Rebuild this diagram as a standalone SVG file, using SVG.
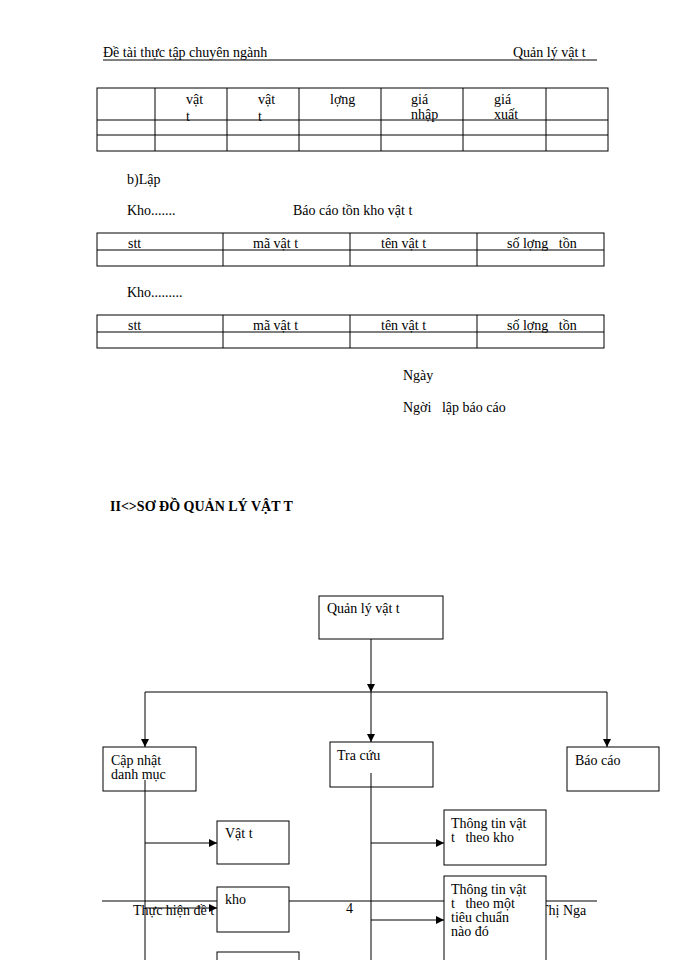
<svg xmlns="http://www.w3.org/2000/svg" width="700" height="960" viewBox="0 0 700 960">
<style>
text{font-family:"Liberation Serif",serif;font-size:14px;fill:#000}
.l{stroke:#000;stroke-width:1;fill:none}
.b{stroke:#000;stroke-width:1;fill:#fff}
.c{stroke:#000;stroke-width:1;fill:none}
</style>
<defs><marker id="a" viewBox="0 0 10 10" refX="10" refY="5" markerWidth="8" markerHeight="8" orient="auto" markerUnits="userSpaceOnUse"><path d="M0,0L10,5L0,10z" fill="#000"/></marker></defs>
<rect width="700" height="960" fill="#fff"/>
<text x="103" y="57">Đề tài thực tập chuyên ngành</text>
<text x="513" y="57">Quản lý vật t</text>
<line class="l" x1="103" y1="60" x2="597" y2="60"/>
<g class="l">
<rect x="97" y="88" width="511" height="63"/>
<line x1="97" y1="120" x2="608" y2="120"/><line x1="97" y1="135" x2="608" y2="135"/>
<line x1="155" y1="88" x2="155" y2="151"/><line x1="227" y1="88" x2="227" y2="151"/><line x1="299" y1="88" x2="299" y2="151"/><line x1="381" y1="88" x2="381" y2="151"/><line x1="463" y1="88" x2="463" y2="151"/><line x1="546" y1="88" x2="546" y2="151"/>
</g>
<text x="186" y="104">vật</text><text x="186" y="121">t</text>
<text x="258" y="104">vật</text><text x="258" y="121">t</text>
<text x="330" y="104">lợng</text>
<text x="411" y="104">giá</text><text x="411" y="119">nhập</text>
<text x="494" y="104">giá</text><text x="494" y="119">xuất</text>
<text x="127" y="184">b)Lập</text>
<text x="127" y="215">Kho.......</text>
<text x="293" y="215">Báo cáo tồn kho vật t</text>
<g class="l">
<rect x="97" y="233" width="507" height="33"/><line x1="97" y1="250" x2="604" y2="250"/>
<line x1="223" y1="233" x2="223" y2="266"/><line x1="350" y1="233" x2="350" y2="266"/><line x1="477" y1="233" x2="477" y2="266"/>
</g>
<text x="128" y="248">stt</text><text x="253" y="248">mã vật t</text><text x="381" y="248">tên vật t</text><text x="507" y="248" xml:space="preserve">số lợng   tồn</text>
<text x="127" y="297">Kho.........</text>
<g class="l">
<rect x="97" y="315" width="507" height="33"/><line x1="97" y1="332" x2="604" y2="332"/>
<line x1="223" y1="315" x2="223" y2="348"/><line x1="350" y1="315" x2="350" y2="348"/><line x1="477" y1="315" x2="477" y2="348"/>
</g>
<text x="128" y="330">stt</text><text x="253" y="330">mã vật t</text><text x="381" y="330">tên vật t</text><text x="507" y="330" xml:space="preserve">số lợng   tồn</text>
<text x="403" y="380">Ngày</text>
<text x="403" y="412" xml:space="preserve">Ngời   lập báo cáo</text>
<text x="110" y="511" font-weight="bold">II&lt;&gt;SƠ ĐỒ QUẢN LÝ VẬT T</text>
<g id="footer">
<line class="l" x1="102" y1="901" x2="597" y2="901"/>
<text x="133" y="915">Thực hiện đề t</text>
<text x="346" y="913">4</text>
<text x="540" y="915">Thị Nga</text>
</g>
<g id="n-root"><rect class="b" x="319" y="596" width="124" height="43"/><text x="327" y="613">Quản lý vật t</text></g>
<g id="n-cap"><rect class="b" x="103" y="747" width="93" height="44"/><text x="111" y="765">Cập nhật</text><text x="111" y="779">danh mục</text></g>
<g id="n-tra"><rect class="b" x="330" y="742" width="103" height="45"/><text x="337" y="760">Tra cứu</text></g>
<g id="n-bao"><rect class="b" x="567" y="747" width="92" height="44"/><text x="575" y="765">Báo cáo</text></g>
<g id="n-vatt"><rect class="b" x="217" y="821" width="72" height="43"/><text x="225" y="838">Vật t</text></g>
<g id="n-kho"><rect class="b" x="217" y="887" width="72" height="45"/><text x="225" y="904">kho</text></g>
<g id="n-3"><rect class="b" x="217" y="952" width="82" height="20"/></g>
<g id="n-tt1"><rect class="b" x="444" y="810" width="102" height="55"/><text x="451" y="828">Thông tin vật</text><text x="451" y="842" xml:space="preserve">t   theo kho</text></g>
<g id="n-tt2"><rect class="b" x="444" y="876" width="102" height="100"/><text x="451" y="894">Thông tin vật</text><text x="451" y="908" xml:space="preserve">t   theo một</text><text x="451" y="922">tiêu chuẩn</text><text x="451" y="936">nào đó</text></g>
<g id="connectors" class="c">
<line x1="371" y1="639" x2="371" y2="692" marker-end="url(#a)"/>
<line x1="145" y1="692" x2="607" y2="692"/>
<line x1="145" y1="692" x2="145" y2="747" marker-end="url(#a)"/>
<line x1="371" y1="692" x2="371" y2="742" marker-end="url(#a)"/>
<line x1="607" y1="692" x2="607" y2="747" marker-end="url(#a)"/>
<line x1="145" y1="780" x2="145" y2="960"/>
<line x1="145" y1="843" x2="217" y2="843" marker-end="url(#a)"/>
<line x1="145" y1="908" x2="217" y2="908" marker-end="url(#a)"/>
<line x1="371" y1="773" x2="371" y2="960"/>
<line x1="371" y1="843" x2="444" y2="843" marker-end="url(#a)"/>
<line x1="371" y1="920" x2="444" y2="920" marker-end="url(#a)"/>
</g>
</svg>
